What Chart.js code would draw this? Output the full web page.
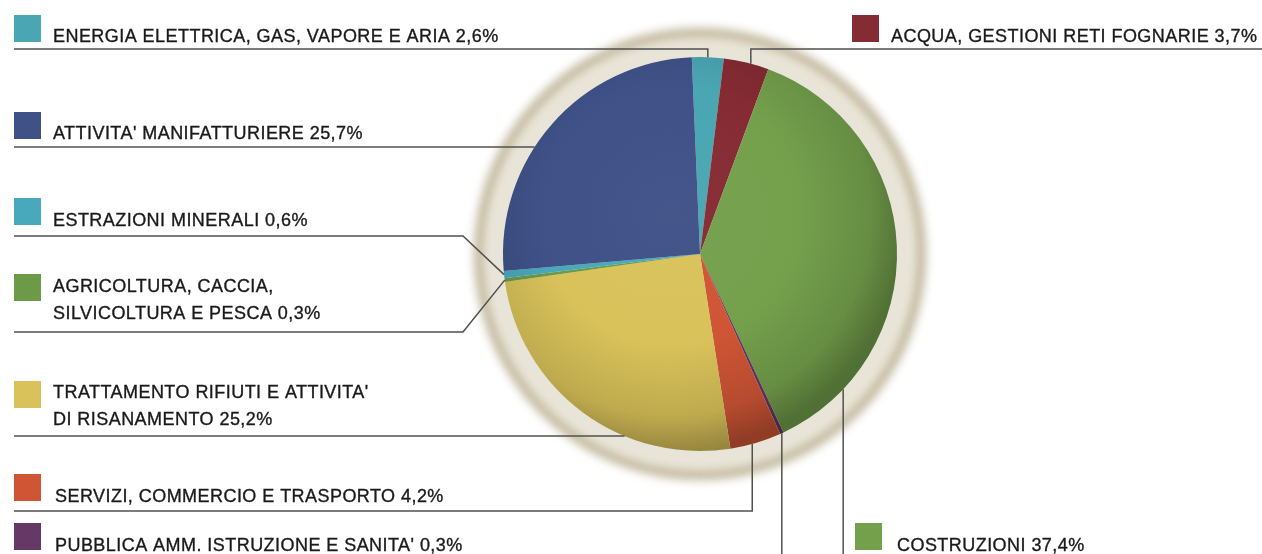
<!DOCTYPE html>
<html>
<head>
<meta charset="utf-8">
<script src="https://cdn.jsdelivr.net/npm/chart.js@4.4.1/dist/chart.umd.min.js"></script>
<style>
  html, body { margin: 0; padding: 0; background: #ffffff; overflow: hidden; }
  #wrap { width: 1262px; height: 554px; }
</style>
</head>
<body>
<div id="wrap"><canvas id="c" width="1262" height="554"></canvas></div>
<script>
// Sectors, in drawing order clockwise from the top of the pie
const categories = [
  ["ENERGIA ELETTRICA, GAS, VAPORE E ARIA"],
  ["ACQUA, GESTIONI RETI FOGNARIE"],
  ["COSTRUZIONI"],
  ["PUBBLICA AMM. ISTRUZIONE E SANITA'"],
  ["SERVIZI, COMMERCIO E TRASPORTO"],
  ["TRATTAMENTO RIFIUTI E ATTIVITA'", "DI RISANAMENTO"],
  ["AGRICOLTURA, CACCIA,", "SILVICOLTURA E PESCA"],
  ["ESTRAZIONI MINERALI"],
  ["ATTIVITA' MANIFATTURIERE"]
];
const shares = [2.6, 3.7, 37.4, 0.3, 4.2, 25.2, 0.3, 0.6, 25.7];
const colours = ["#4aa6b3", "#852b33", "#74a04c", "#653866", "#cf5535", "#d9c25a", "#6c9a46", "#48a9bc", "#3f5187"];

// Callout placement: key square, text, underline and leader route
const callouts = [
  { sq: [14, 15],  tx: [53, 42],  under: 49,  from: 14,   route: "drop", t: 0.5 },
  { sq: [852, 15], tx: [891, 42], under: 49,  from: 1262, route: "drop", t: 0.6 },
  { sq: [855, 523], tx: [897, 551], route: "rise", t: 0.84 },
  { sq: [14, 523], tx: [55, 551], route: "rise", t: 0.5 },
  { sq: [14, 474], tx: [55, 502], under: 511, from: 14, route: "drop", t: 0.57 },
  { sq: [14, 381], tx: [53, 398], under: 436, from: 14, route: "edge" },
  { sq: [14, 274], tx: [53, 292], under: 332, from: 14, route: "bend", bendX: 463, t: 0.5 },
  { sq: [14, 198], tx: [53, 226], under: 236, from: 14, route: "bend", bendX: 463, t: 0.5 },
  { sq: [14, 112], tx: [53, 139], under: 147, from: 14, route: "edge" }
];

const fmt = v => v.toFixed(1).replace(".", ",") + "%";

function mix(hex, target, amt) {
  const n = parseInt(hex.slice(1), 16);
  const r = (n >> 16) & 255, g = (n >> 8) & 255, b = n & 255;
  const m = c => Math.round(c + (target - c) * amt);
  return "rgb(" + m(r) + "," + m(g) + "," + m(b) + ")";
}

// Soft radial shading: lighter toward the upper left, darker at the rim
function shaded(context) {
  const chart = context.chart;
  const base = colours[context.dataIndex];
  const a = chart.chartArea;
  if (!a) return base;
  const cx = (a.left + a.right) / 2, cy = (a.top + a.bottom) / 2;
  const R = Math.min(a.right - a.left, a.bottom - a.top) / 2;
  const gx = cx - R * 0.15, gy = cy - R * 0.2;
  const g = chart.ctx.createRadialGradient(gx, gy, 0, gx, gy, R * 1.2);
  g.addColorStop(0, mix(base, 255, 0.03));
  g.addColorStop(0.55, base);
  g.addColorStop(0.85, mix(base, 0, 0.12));
  g.addColorStop(1, mix(base, 0, 0.3));
  return g;
}

// Beige halo behind the pie
const haloPlugin = {
  id: "halo",
  beforeDatasetsDraw(chart) {
    const el = chart.getDatasetMeta(0).data[0];
    if (!el) return;
    const { x, y, outerRadius: R } = el;
    const ctx = chart.ctx;
    ctx.save();
    ctx.filter = "blur(5px)";
    ctx.fillStyle = "#c3b99e";
    ctx.beginPath(); ctx.arc(x, y, R + 29, 0, Math.PI * 2); ctx.fill();
    ctx.filter = "blur(4px)";
    ctx.fillStyle = "#e8e4d7";
    ctx.beginPath(); ctx.arc(x, y, R + 20, 0, Math.PI * 2); ctx.fill();
    ctx.filter = "none";
    ctx.restore();
  }
};

// Key squares, texts and leader lines
const calloutPlugin = {
  id: "callouts",
  afterDatasetsDraw(chart) {
    const meta = chart.getDatasetMeta(0);
    const ctx = chart.ctx;
    const H = chart.height;
    ctx.save();
    callouts.forEach((c, i) => {
      const el = meta.data[i];
      const { x: cx, y: cy, outerRadius: R } = el;
      const ang = c.t !== undefined ? el.startAngle + c.t * (el.endAngle - el.startAngle) : 0;
      const ax = cx + R * Math.cos(ang), ay = cy + R * Math.sin(ang);

      ctx.strokeStyle = "#505050";
      ctx.lineWidth = 1.5;
      ctx.beginPath();
      if (c.route === "drop") {
        ctx.moveTo(c.from, c.under); ctx.lineTo(ax, c.under); ctx.lineTo(ax, ay);
      } else if (c.route === "edge") {
        const ex = cx - Math.sqrt(R * R - (c.under - cy) * (c.under - cy));
        ctx.moveTo(c.from, c.under); ctx.lineTo(ex, c.under);
      } else if (c.route === "bend") {
        ctx.moveTo(c.from, c.under); ctx.lineTo(c.bendX, c.under); ctx.lineTo(ax, ay);
      } else if (c.route === "rise") {
        ctx.moveTo(ax, H); ctx.lineTo(ax, ay);
      }
      ctx.stroke();

      ctx.fillStyle = colours[i];
      ctx.fillRect(c.sq[0], c.sq[1], 27, 27);

      ctx.fillStyle = "#1a1a1a";
      ctx.strokeStyle = "#1a1a1a";
      ctx.lineWidth = 0.35;
      ctx.font = '18px "Liberation Sans", Arial, sans-serif';
      ctx.letterSpacing = "0.45px";
      ctx.textBaseline = "alphabetic";
      ctx.textAlign = "left";
      const lines = categories[i].slice();
      lines[lines.length - 1] = lines[lines.length - 1] + " " + fmt(shares[i]);
      lines.forEach((ln, k) => {
        ctx.fillText(ln, c.tx[0], c.tx[1] + k * 27);
        ctx.strokeText(ln, c.tx[0], c.tx[1] + k * 27);
      });
      ctx.letterSpacing = "0px";
    });
    ctx.restore();
  }
};

new Chart(document.getElementById("c"), {
  type: "pie",
  data: {
    labels: categories.map(l => l.join(" ")),
    datasets: [{
      data: shares,
      backgroundColor: shaded,
      borderWidth: 0,
      hoverOffset: 0
    }]
  },
  options: {
    responsive: false,
    animation: false,
    events: [],
    rotation: -2.4,
    layout: { padding: { left: 500, right: 362, top: 57, bottom: 103 } },
    plugins: { legend: { display: false }, tooltip: { enabled: false } }
  },
  plugins: [haloPlugin, calloutPlugin]
});
</script>
</body>
</html>
